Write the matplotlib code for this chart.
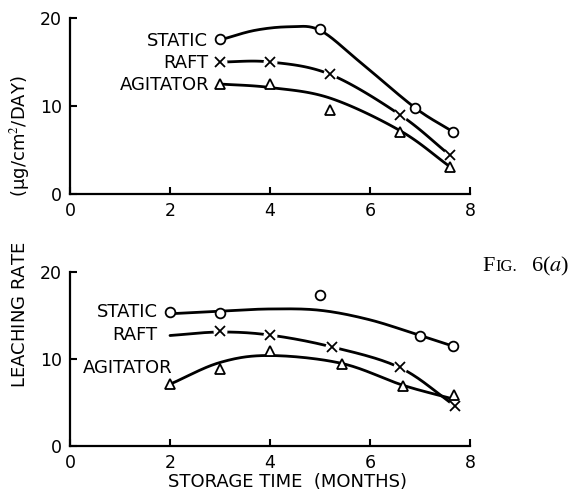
import numpy as np
import matplotlib
matplotlib.use("Agg")
import matplotlib.pyplot as plt

plt.rcParams['font.family'] = ['DejaVu Sans']
plt.rcParams['mathtext.fontset'] = 'stix'

# top panel: measured points
top_static_x = [3.0, 5.0, 6.9, 7.65]
top_static_y = [17.6, 18.8, 9.8, 7.1]
top_raft_x = [3.0, 4.0, 5.2, 6.6, 7.6]
top_raft_y = [15.0, 15.0, 13.6, 9.0, 4.4]
top_agit_x = [3.0, 4.0, 5.2, 6.6, 7.6]
top_agit_y = [12.5, 12.5, 9.6, 7.0, 3.1]

# top panel: hand drawn curves
top_static_cx = [3.0, 3.7, 4.4, 5.0, 5.8, 6.9, 7.65]
top_static_cy = [17.5, 18.6, 19.0, 18.6, 15.0, 9.8, 7.1]
top_raft_cx = [3.0, 4.0, 5.2, 6.6, 7.6]
top_raft_cy = [15.0, 15.0, 13.6, 9.0, 4.4]
top_agit_cx = [3.0, 4.0, 5.2, 6.6, 7.6]
top_agit_cy = [12.5, 12.1, 10.9, 7.2, 3.1]

# bottom panel: measured points
bot_static_x = [2.0, 3.0, 5.0, 7.0, 7.65]
bot_static_y = [15.4, 15.3, 17.4, 12.7, 11.5]
bot_raft_x = [3.0, 4.0, 5.23, 6.6, 7.7]
bot_raft_y = [13.2, 12.8, 11.4, 9.1, 4.6]
bot_agit_x = [2.0, 3.0, 4.0, 5.43, 6.65, 7.67]
bot_agit_y = [7.1, 8.8, 10.9, 9.4, 6.9, 5.9]

# bottom panel: curves
bot_static_cx = [2.0, 3.0, 4.0, 5.0, 6.0, 7.0, 7.65]
bot_static_cy = [15.2, 15.5, 15.75, 15.6, 14.5, 12.7, 11.5]
bot_raft_cx = [2.0, 3.0, 4.0, 5.23, 6.6, 7.7]
bot_raft_cy = [12.7, 13.1, 12.75, 11.4, 9.0, 4.6]
bot_agit_cx = [2.0, 3.0, 4.0, 5.43, 6.65, 7.6]
bot_agit_cy = [7.1, 9.6, 10.4, 9.5, 7.0, 5.5]

labels = ["STATIC", "RAFT", "AGITATOR"]
top_label_x = [2.76, 2.76, 2.78]
top_label_y = [17.4, 14.9, 12.4]
bot_label_x = [1.76, 1.74, 2.04]
bot_label_y = [15.4, 12.75, 9.0]

xticks = [0, 2, 4, 6, 8]
yticks = [0, 10, 20]

W, H = 577, 491
fig = plt.figure(figsize=(W / 100, H / 100), dpi=100)
ax_top = fig.add_axes([70 / W, 1 - 194 / H, 400 / W, 176 / H])
ax_bot = fig.add_axes([70 / W, 1 - 446 / H, 400 / W, 174 / H])


def smooth(xs, ys, n=30):
    # catmull-rom through the read curve points
    p = np.column_stack([xs, ys]).astype(float)
    p = np.vstack([2 * p[0] - p[1], p, 2 * p[-1] - p[-2]])
    out = []
    t = np.linspace(0, 1, n)[:, None]
    for i in range(1, len(p) - 2):
        p0, p1, p2, p3 = p[i - 1], p[i], p[i + 1], p[i + 2]
        seg = 0.5 * (2 * p1 + (p2 - p0) * t
                     + (2 * p0 - 5 * p1 + 4 * p2 - p3) * t ** 2
                     + (3 * p1 - p0 - 3 * p2 + p3) * t ** 3)
        out.append(seg)
    out = np.vstack(out)
    return out[:, 0], out[:, 1]


def curve(ax, xs, ys):
    sx, sy = smooth(xs, ys)
    ax.plot(sx, sy, color='black', lw=2.0, zorder=2, solid_capstyle='round')


def marks(ax, xs, ys, m):
    if m == 'x':
        ax.plot(xs, ys, 'o', ms=10, mfc='white', mec='none', zorder=3)
        ax.plot(xs, ys, 'x', ms=7, mew=1.3, color='black', zorder=4)
    else:
        ax.plot(xs, ys, m, ms=7 if m == 'o' else 7.5, mfc='white',
                mec='black', mew=1.3, zorder=4)


curve(ax_top, top_static_cx, top_static_cy)
curve(ax_top, top_raft_cx, top_raft_cy)
curve(ax_top, top_agit_cx, top_agit_cy)
marks(ax_top, top_static_x, top_static_y, 'o')
marks(ax_top, top_raft_x, top_raft_y, 'x')
marks(ax_top, top_agit_x, top_agit_y, '^')

curve(ax_bot, bot_static_cx, bot_static_cy)
curve(ax_bot, bot_raft_cx, bot_raft_cy)
curve(ax_bot, bot_agit_cx, bot_agit_cy)
marks(ax_bot, bot_static_x, bot_static_y, 'o')
marks(ax_bot, bot_raft_x, bot_raft_y, 'x')
marks(ax_bot, bot_agit_x, bot_agit_y, '^')

for ax, lx, ly in [(ax_top, top_label_x, top_label_y),
                   (ax_bot, bot_label_x, bot_label_y)]:
    for t, x, y in zip(labels, lx, ly):
        ax.text(x, y, t, ha='right', va='center', fontsize=13)
    ax.set_xlim(0, 8)
    ax.set_ylim(0, 20)
    ax.set_xticks(xticks)
    ax.set_yticks(yticks)
    for s in ['top', 'right']:
        ax.spines[s].set_visible(False)
    for s in ['left', 'bottom']:
        ax.spines[s].set_linewidth(1.6)
    ax.tick_params(direction='in', length=5, width=1.5, labelsize=12.5)
    ax.tick_params(axis='x', pad=6)
    ax.tick_params(axis='y', pad=6)
    ax.patch.set_alpha(0)

fig.text(20 / W, 1 - 232 / H, "LEACHING RATE        (\u03bcg/cm$^2$/DAY)",
         rotation=90, ha='center', va='center', fontsize=13)
fig.text(288 / W, 1 - 482 / H, "STORAGE TIME  (MONTHS)",
         ha='center', va='center', fontsize=13)

base = 1 - 271 / H
fig.text(482 / W, base, "F", family='Liberation Serif', fontsize=16, va='baseline')
fig.text(495 / W, base, "IG.", family='Liberation Serif', fontsize=12, va='baseline')
fig.text(531 / W, base, "6($\\mathit{a}$)", family='Liberation Serif',
         fontsize=16, va='baseline')

fig.savefig("out.png", dpi=100)
